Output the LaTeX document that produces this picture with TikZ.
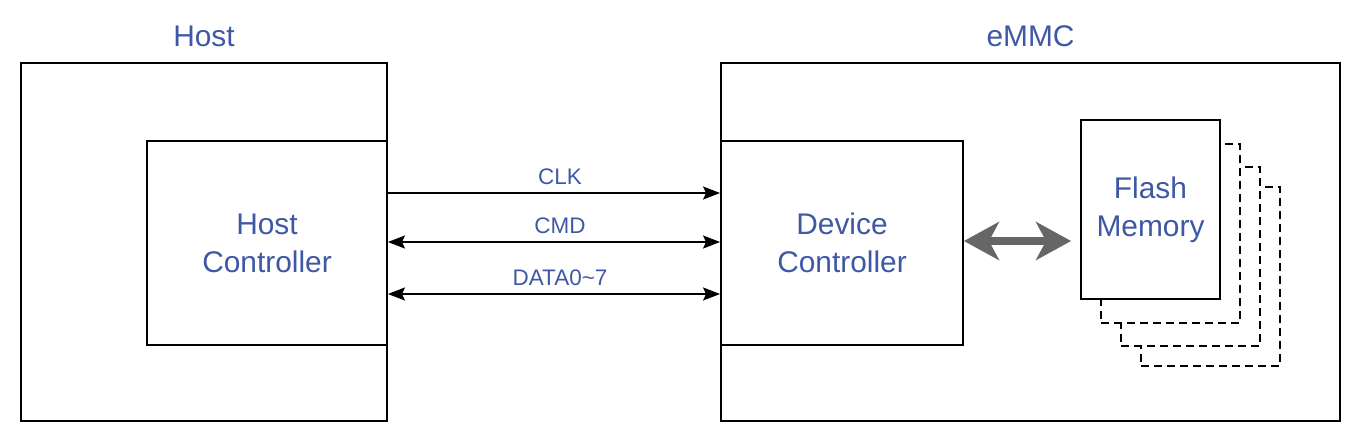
\documentclass[tikz,border=0pt]{standalone}
\usepackage{fontspec}
\setmainfont{Liberation Sans}
\usetikzlibrary{arrows.meta, positioning, calc}
\definecolor{lblue}{HTML}{3F58A6}
\definecolor{darrow}{HTML}{666666}
\tikzstyle{outer} = [rectangle, draw=black, line width=1.1pt, minimum height=7.16cm]
\tikzstyle{ctrl} = [rectangle, draw=black, fill=white, line width=1.1pt, minimum height=4.08cm,
    text centered, align=center, text=lblue, font=\fontsize{17}{21.6}\selectfont]
\tikzstyle{chip} = [rectangle, draw=black, fill=white, line width=1.1pt, minimum width=2.78cm, minimum height=3.58cm,
    align=center, text=lblue, font=\fontsize{17}{21.6}\selectfont]
\tikzstyle{stack} = [chip, line width=0.85pt, dash pattern=on 0.16cm off 0.1cm]
\tikzstyle{title} = [text=lblue, font=\fontsize{17}{21.6}\selectfont, inner sep=0pt]
\tikzstyle{arrow} = [line width=1.1pt, {Stealth[length=0.34cm,width=0.26cm,inset=0.06cm]}-{Stealth[length=0.34cm,width=0.26cm,inset=0.06cm]}]
\tikzstyle{onearrow} = [line width=1.1pt, -{Stealth[length=0.34cm,width=0.26cm,inset=0.06cm]}]
\tikzstyle{bigarrow} = [line width=0.16cm, draw=darrow, {Stealth[length=0.7cm,width=0.76cm,inset=0.2cm]}-{Stealth[length=0.7cm,width=0.76cm,inset=0.2cm]}]
\tikzstyle{lbl} = [text=lblue, font=\fontsize{12.8}{15}\selectfont, inner sep=0pt, above=0.14cm, xshift=0.12cm]

\begin{document}
\begin{tikzpicture}[x=0.02cm, y=-0.02cm]
\useasboundingbox (0,0) rectangle (1362,444);
\node (host) [outer, minimum width=7.32cm] at (204,242) {};
\node (emmc) [outer, minimum width=12.38cm] at (1030.5,242) {};
\node (hostlbl) [title, above=0.3cm of host.north] {Host};
\node (emmclbl) [title, above=0.3cm of emmc.north] {eMMC};
\node (hc) [ctrl, minimum width=4.8cm] at (267,243) {Host\\Controller};
\node (dc) [ctrl, minimum width=4.84cm] at (842,243) {Device\\Controller};
\foreach \i/\dx/\dy in {3/60/67, 2/40/47, 1/20/24}
    \node (flash\i) [stack] at (1150.5+\dx,209.5+\dy) {};
\node (flash) [chip] at (1150.5,209.5) {Flash\\Memory};

\draw[onearrow] ([yshift=1cm]hc.east) -- ([yshift=1cm]hc.east -| dc.west) node[lbl, midway] {CLK};
\draw[arrow] ([yshift=0.02cm]hc.east) -- ([yshift=0.02cm]hc.east -| dc.west) node[lbl, midway] {CMD};
\draw[arrow] ([yshift=-1.02cm]hc.east) -- ([yshift=-1.02cm]hc.east -| dc.west) node[lbl, midway] {DATA0\textasciitilde7};
\draw[bigarrow, shorten >=0.18cm] ([yshift=0.04cm]dc.east) -- ([yshift=0.04cm]dc.east -| flash.west);
\end{tikzpicture}
\end{document}
